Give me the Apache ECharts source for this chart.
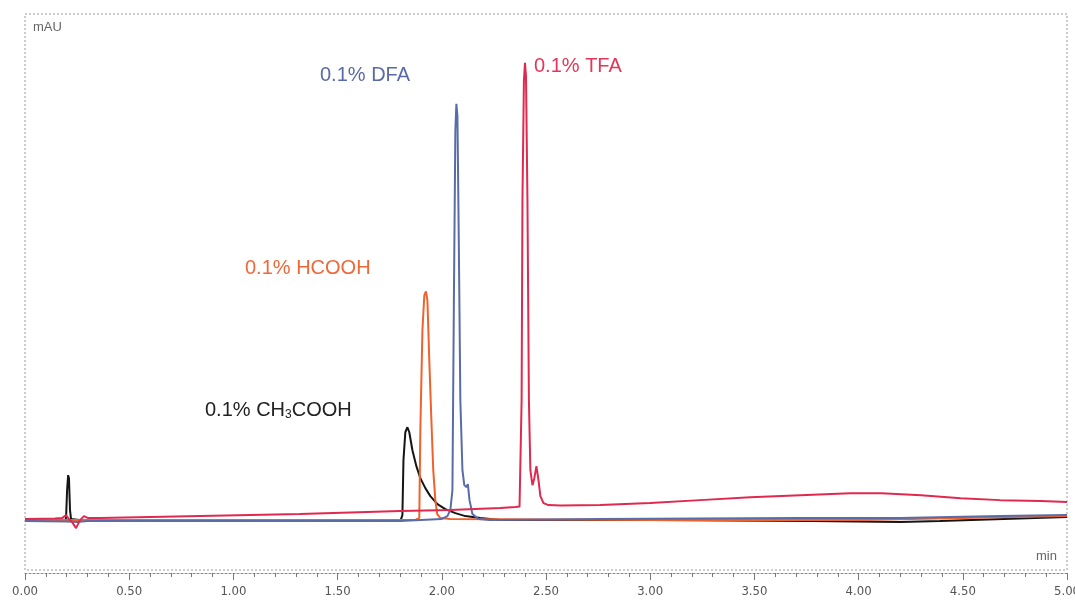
<!DOCTYPE html>
<html>
<head>
<meta charset="utf-8">
<title>Chromatogram</title>
<script src="https://cdn.jsdelivr.net/npm/echarts@6/dist/echarts.min.js"></script>
<style>
  html, body { margin: 0; padding: 0; background: #fff; }
  #chart { width: 1075px; height: 602px; }
</style>
</head>
<body>
<div id="chart"></div>
<script>
// retention time (min) / signal (mAU, arbitrary)
const tfaTime = [0, 0.144, 0.178, 0.197, 0.211, 0.226, 0.245, 0.264, 0.283, 0.303, 0.36, 0.6, 0.84, 1.08, 1.32, 1.56, 1.8, 2.04, 2.28, 2.354, 2.373, 2.383, 2.387, 2.394, 2.399, 2.404, 2.411, 2.418, 2.425, 2.435, 2.444, 2.454, 2.464, 2.473, 2.488, 2.512, 2.57, 2.76, 3.0, 3.24, 3.48, 3.72, 3.96, 4.11, 4.3, 4.49, 4.68, 4.875, 5.0]
const tfaSignal = [0, 0.5, 1, 4, 0, -3, -9, -1, 3, 1, 1, 2, 3, 4, 5, 6.5, 8, 9, 11, 12, 12.5, 119, 319, 439, 457, 444, 319, 119, 49, 34, 41, 53, 39, 23, 16, 14, 13.5, 14, 16, 19, 22, 24, 26, 26, 24, 21, 19, 18, 17]

const hcoohTime = [0, 1.0, 1.87, 1.892, 1.897, 1.907, 1.916, 1.924, 1.931, 1.94, 1.95, 1.959, 1.969, 1.978, 1.993, 2.04, 3.0, 4.0, 4.5, 5.0]
const hcoohSignal = [-1, -1, -1, 1, 89, 189, 224, 228, 219, 159, 99, 49, 19, 5, 1, 0, -1, -1, 1, 3]

const dfaTime = [0, 0.2, 0.25, 0.3, 1.0, 1.8, 1.998, 2.027, 2.041, 2.051, 2.058, 2.065, 2.07, 2.075, 2.082, 2.089, 2.099, 2.108, 2.118, 2.125, 2.133, 2.147, 2.176, 2.23, 2.76, 3.72, 4.2, 4.44, 4.68, 5.0]
const dfaSignal = [-2, -2.5, -3, -2, -2, -2, 0, 3, 9, 29, 219, 389, 416, 404, 269, 119, 49, 34, 32, 35, 19, 5, 0, -1, 0, 1, 1, 2, 3, 4]

const aceticTime = [0, 0.19, 0.197, 0.202, 0.207, 0.211, 0.216, 0.221, 0.3, 1.0, 1.801, 1.811, 1.816, 1.825, 1.835, 1.844, 1.859, 1.878, 1.897, 1.921, 1.945, 1.979, 2.017, 2.065, 2.113, 2.185, 2.28, 3.0, 3.77, 4.2, 4.39, 5.0]
const aceticSignal = [-2, -2, 1, 29, 44, 41, 9, 0, -2, -2, -2, 4, 59, 87, 92, 87, 69, 53, 41, 31, 23, 15, 10, 6, 3, 1, -1, -1, -2, -3, -2, 2]

const fontFamily = '"Liberation Sans", Arial, sans-serif'

function pairs(xs, ys) {
  return xs.map((x, i) => [x, ys[i]])
}

function trace(name, xs, ys, color) {
  return {
    name: name,
    type: 'line',
    data: pairs(xs, ys),
    showSymbol: false,
    silent: true,
    lineStyle: { color: color, width: 2 },
    itemStyle: { color: color }
  }
}

function label(text, x, y, color) {
  return {
    type: 'text',
    x: x,
    y: y,
    style: {
      text: text,
      fill: color,
      font: '20px ' + fontFamily,
      verticalAlign: 'middle'
    }
  }
}

const chart = echarts.init(document.getElementById('chart'))
chart.setOption({
  animation: false,
  backgroundColor: '#fff',
  grid: {
    left: 25,
    right: 8,
    top: 14,
    bottom: 32,
    outerBoundsMode: 'none',
    show: true,
    borderColor: '#9a9a9a',
    borderWidth: 1,
    borderType: [2, 2]
  },
  xAxis: {
    type: 'value',
    min: 0,
    max: 5,
    interval: 0.5,
    offset: 3,
    axisLine: { onZero: false, lineStyle: { color: '#888', type: [2, 2] } },
    axisTick: { length: 7, lineStyle: { color: '#777' } },
    minorTick: { show: true, splitNumber: 5, length: 4, lineStyle: { color: '#777' } },
    splitLine: { show: false },
    axisLabel: {
      margin: 12,
      color: '#555',
      fontSize: 13,
      fontFamily: '"Liberation Sans Narrow", "DejaVu Sans Condensed", sans-serif',
      formatter: v => v.toFixed(2),
      showMaxLabel: true
    }
  },
  yAxis: {
    type: 'value',
    min: -51,
    max: 506,
    show: false,
    splitLine: { show: false }
  },
  // drawn bottom to top: acetic, formic, DFA, TFA
  series: [
    trace('0.1% CH3COOH', aceticTime, aceticSignal, '#151515'),
    trace('0.1% HCOOH', hcoohTime, hcoohSignal, '#f0622c'),
    trace('0.1% DFA', dfaTime, dfaSignal, '#5a6ca8'),
    trace('0.1% TFA', tfaTime, tfaSignal, '#e0294f')
  ],
  graphic: [
    {
      type: 'text', x: 33, y: 27,
      style: { text: 'mAU', fill: '#666', font: '13px ' + fontFamily, verticalAlign: 'middle' }
    },
    {
      type: 'text', x: 1036, y: 556,
      style: { text: 'min', fill: '#666', font: '13px ' + fontFamily, verticalAlign: 'middle' }
    },
    label('0.1% DFA', 320, 75, '#5a6aa8'),
    label('0.1% TFA', 534, 66, '#e3365a'),
    label('0.1% HCOOH', 245, 268, '#ef6838'),
    {
      type: 'text', x: 205, y: 410,
      style: {
        text: '{a|0.1% CH}{s|3}{a|COOH}',
        verticalAlign: 'middle',
        rich: {
          a: { fontSize: 20, fontFamily: fontFamily, fill: '#222' },
          s: { fontSize: 12, fontFamily: fontFamily, fill: '#222', padding: [10, 0, 0, 0] }
        }
      }
    }
  ]
})
</script>
</body>
</html>
